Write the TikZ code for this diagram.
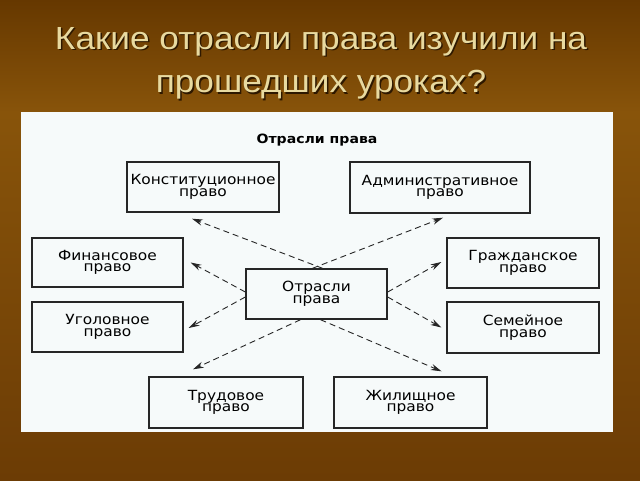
\documentclass[tikz,border=0pt]{standalone}
\usepackage{fontspec}
\setmainfont{Liberation Sans}
\newfontfamily\titlefont[FakeStretch=1.1]{Liberation Sans}
\newfontfamily\boxfont[FakeStretch=1.1]{DejaVu Sans}
\usepackage{tikz}
\usetikzlibrary{arrows.meta,calc}
\definecolor{bgTop}{RGB}{102,56,0}
\definecolor{bgMid}{RGB}{136,84,10}
\definecolor{bgBot}{RGB}{108,60,5}
\definecolor{titleTan}{RGB}{232,218,160}
\definecolor{titleShade}{RGB}{45,24,0}
\definecolor{paper}{RGB}{246,250,250}
\tikzset{
  branch/.style={rectangle, draw=black!85, line width=0.7pt, fill=paper, align=center, inner sep=0pt, font=\boxfont\fontsize{7}{5.8}\selectfont},
  heading/.style={inner sep=0pt, font=\boxfont\bfseries\fontsize{6.4}{7}\selectfont},
  title/.style={inner sep=0pt, align=center, font=\titlefont\fontsize{16}{21.75}\selectfont},
  link/.style={-{Stealth[length=1.9mm,width=1.1mm]}, densely dashed, line width=0.45pt, draw=black!85}
}

\begin{document}
\begin{tikzpicture}[x=0.5pt, y=-0.5pt]
  \useasboundingbox (0,0) rectangle (640,480);
  \shade[top color=bgTop, bottom color=bgMid] (0,0) rectangle (640,112);
  \shade[top color=bgMid, bottom color=bgBot] (0,112) rectangle (640,480);
  % title with shadow
  \node[title, text=titleShade, anchor=base] (titleshadow) at (322.5,94.5) {Какие отрасли права изучили на\\прошедших уроках?};
  \node[title, text=titleTan, anchor=base] (titletext) at (321,93) {Какие отрасли права изучили на\\прошедших уроках?};
  % scanned page
  \fill[paper] (21,112) rectangle (613,432);
  \node[heading, anchor=base] (head) at (317,144) {Отрасли права};
  \node[branch, minimum width=70.5pt, minimum height=25pt] (otr) at (316.5,294) {Отрасли\\права};
  \node[branch, minimum width=76pt, minimum height=25pt] (kon) at (203,187) {Конституционное\\право};
  \node[branch, minimum width=90pt, minimum height=25.5pt] (adm) at (440,187.5) {Административное\\право};
  \node[branch, minimum width=75.5pt, minimum height=24.5pt] (fin) at (107.5,262.5) {Финансовое\\право};
  \node[branch, minimum width=75.5pt, minimum height=25pt] (ugol) at (107.5,327) {Уголовное\\право};
  \node[branch, minimum width=76pt, minimum height=25pt] (grazh) at (523,263) {Гражданское\\право};
  \node[branch, minimum width=76pt, minimum height=25.5pt] (sem) at (523,327.5) {Семейное\\право};
  \node[branch, minimum width=77pt, minimum height=25.5pt] (trud) at (226,402.5) {Трудовое\\право};
  \node[branch, minimum width=76.5pt, minimum height=25.5pt] (zhil) at (410.5,402.5) {Жилищное\\право};
  % arrows out of the centre
  \draw[link] ($(otr.north)+(6,0)$) -- ($(kon.south)+(-11,6)$);
  \draw[link] ($(otr.north)+(-4,0)$) -- ($(adm.south)+(3,4)$);
  \draw[link] ($(otr.west)+(0,-2)$) -- ($(fin.east)+(7,0)$);
  \draw[link] ($(otr.west)+(0,3)$) -- ($(ugol.east)+(5,1)$);
  \draw[link] ($(otr.east)+(0,-2)$) -- ($(grazh.west)+(-5,-1)$);
  \draw[link] ($(otr.east)+(0,3)$) -- ($(sem.west)+(-5,0)$);
  \draw[link] ($(otr.south)+(-16,0)$) -- ($(trud.north)+(-33,-7)$);
  \draw[link] ($(otr.south)+(4,0)$) -- ($(zhil.north)+(31,-5)$);
\end{tikzpicture}
\end{document}
